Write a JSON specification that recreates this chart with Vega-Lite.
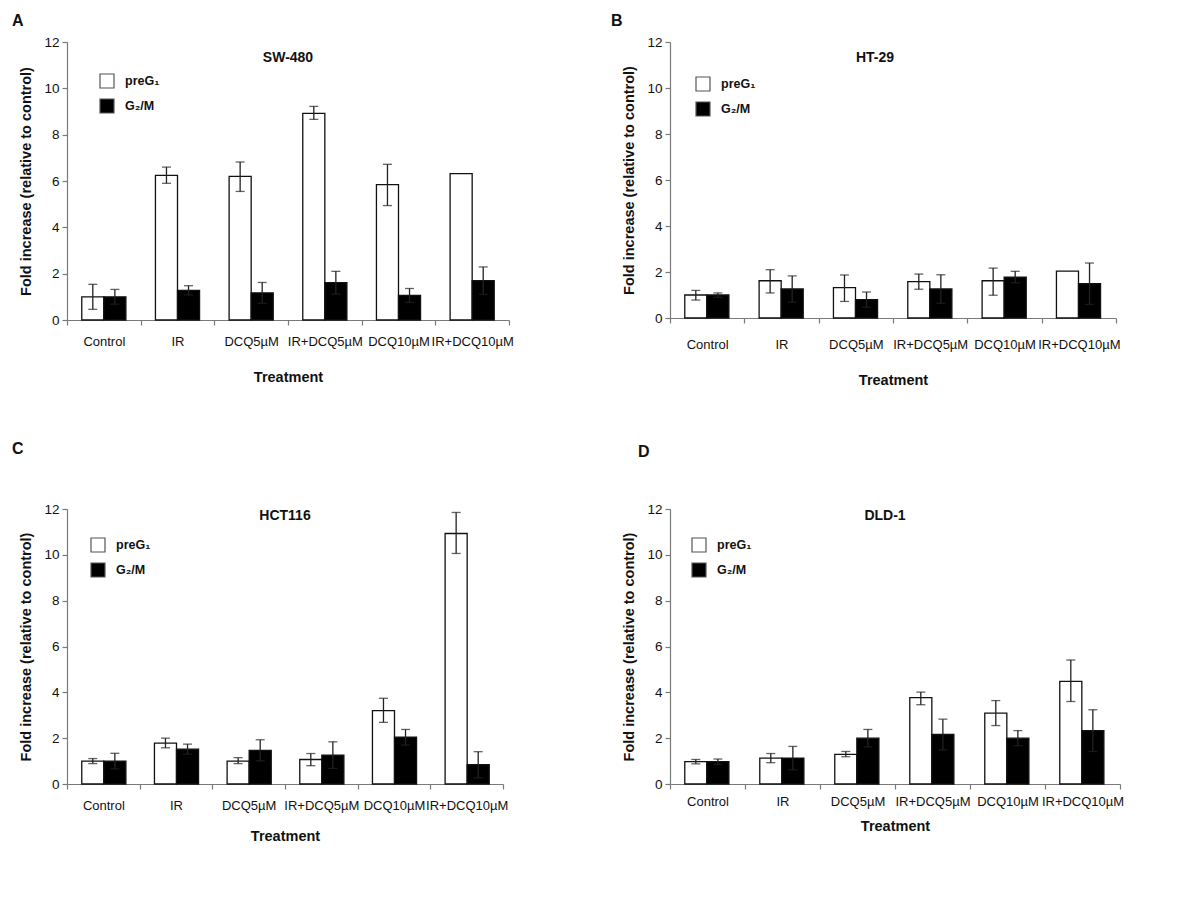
{
  "$schema": "https://vega.github.io/schema/vega-lite/v6.json",
  "background": "white",
  "padding": {"left": 11, "top": 13, "right": 5, "bottom": 5},
  "data": {"values": [
    {"cell": "SW-480", "treatment": "Control", "phase": "preG₁", "mean": 1.0, "lower": 0.46, "upper": 1.54},
    {"cell": "SW-480", "treatment": "Control", "phase": "G₂/M", "mean": 1.0, "lower": 0.68, "upper": 1.32},
    {"cell": "SW-480", "treatment": "IR", "phase": "preG₁", "mean": 6.24, "lower": 5.9, "upper": 6.6},
    {"cell": "SW-480", "treatment": "IR", "phase": "G₂/M", "mean": 1.28, "lower": 1.08, "upper": 1.48},
    {"cell": "SW-480", "treatment": "DCQ5µM", "phase": "preG₁", "mean": 6.2, "lower": 5.55, "upper": 6.82},
    {"cell": "SW-480", "treatment": "DCQ5µM", "phase": "G₂/M", "mean": 1.17, "lower": 0.72, "upper": 1.62},
    {"cell": "SW-480", "treatment": "IR+DCQ5µM", "phase": "preG₁", "mean": 8.92, "lower": 8.66, "upper": 9.22},
    {"cell": "SW-480", "treatment": "IR+DCQ5µM", "phase": "G₂/M", "mean": 1.61, "lower": 1.12, "upper": 2.1},
    {"cell": "SW-480", "treatment": "DCQ10µM", "phase": "preG₁", "mean": 5.84, "lower": 4.94, "upper": 6.72},
    {"cell": "SW-480", "treatment": "DCQ10µM", "phase": "G₂/M", "mean": 1.06, "lower": 0.76, "upper": 1.36},
    {"cell": "SW-480", "treatment": "IR+DCQ10µM", "phase": "preG₁", "mean": 6.32, "lower": null, "upper": null},
    {"cell": "SW-480", "treatment": "IR+DCQ10µM", "phase": "G₂/M", "mean": 1.7, "lower": 1.11, "upper": 2.29},
    {"cell": "HT-29", "treatment": "Control", "phase": "preG₁", "mean": 1.0, "lower": 0.78, "upper": 1.2},
    {"cell": "HT-29", "treatment": "Control", "phase": "G₂/M", "mean": 1.0, "lower": 0.9, "upper": 1.09},
    {"cell": "HT-29", "treatment": "IR", "phase": "preG₁", "mean": 1.62, "lower": 1.09, "upper": 2.1},
    {"cell": "HT-29", "treatment": "IR", "phase": "G₂/M", "mean": 1.26, "lower": 0.69, "upper": 1.83},
    {"cell": "HT-29", "treatment": "DCQ5µM", "phase": "preG₁", "mean": 1.32, "lower": 0.72, "upper": 1.87},
    {"cell": "HT-29", "treatment": "DCQ5µM", "phase": "G₂/M", "mean": 0.8, "lower": 0.47, "upper": 1.13},
    {"cell": "HT-29", "treatment": "IR+DCQ5µM", "phase": "preG₁", "mean": 1.58, "lower": 1.25, "upper": 1.91},
    {"cell": "HT-29", "treatment": "IR+DCQ5µM", "phase": "G₂/M", "mean": 1.26, "lower": 0.64, "upper": 1.88},
    {"cell": "HT-29", "treatment": "DCQ10µM", "phase": "preG₁", "mean": 1.62, "lower": 0.99, "upper": 2.17},
    {"cell": "HT-29", "treatment": "DCQ10µM", "phase": "G₂/M", "mean": 1.78, "lower": 1.53, "upper": 2.03},
    {"cell": "HT-29", "treatment": "IR+DCQ10µM", "phase": "preG₁", "mean": 2.04, "lower": null, "upper": null},
    {"cell": "HT-29", "treatment": "IR+DCQ10µM", "phase": "G₂/M", "mean": 1.49, "lower": 0.59, "upper": 2.39},
    {"cell": "HCT116", "treatment": "Control", "phase": "preG₁", "mean": 1.0, "lower": 0.89, "upper": 1.11},
    {"cell": "HCT116", "treatment": "Control", "phase": "G₂/M", "mean": 1.0, "lower": 0.66, "upper": 1.34},
    {"cell": "HCT116", "treatment": "IR", "phase": "preG₁", "mean": 1.78, "lower": 1.58, "upper": 2.0},
    {"cell": "HCT116", "treatment": "IR", "phase": "G₂/M", "mean": 1.52, "lower": 1.3, "upper": 1.74},
    {"cell": "HCT116", "treatment": "DCQ5µM", "phase": "preG₁", "mean": 1.0, "lower": 0.89, "upper": 1.15},
    {"cell": "HCT116", "treatment": "DCQ5µM", "phase": "G₂/M", "mean": 1.47, "lower": 1.01, "upper": 1.93},
    {"cell": "HCT116", "treatment": "IR+DCQ5µM", "phase": "preG₁", "mean": 1.07, "lower": 0.8, "upper": 1.33},
    {"cell": "HCT116", "treatment": "IR+DCQ5µM", "phase": "G₂/M", "mean": 1.26, "lower": 0.68, "upper": 1.84},
    {"cell": "HCT116", "treatment": "DCQ10µM", "phase": "preG₁", "mean": 3.2, "lower": 2.69, "upper": 3.74},
    {"cell": "HCT116", "treatment": "DCQ10µM", "phase": "G₂/M", "mean": 2.04, "lower": 1.7, "upper": 2.38},
    {"cell": "HCT116", "treatment": "IR+DCQ10µM", "phase": "preG₁", "mean": 10.93, "lower": 10.06, "upper": 11.85},
    {"cell": "HCT116", "treatment": "IR+DCQ10µM", "phase": "G₂/M", "mean": 0.84, "lower": 0.27, "upper": 1.41},
    {"cell": "DLD-1", "treatment": "Control", "phase": "preG₁", "mean": 0.98, "lower": 0.88, "upper": 1.07},
    {"cell": "DLD-1", "treatment": "Control", "phase": "G₂/M", "mean": 0.97, "lower": 0.85, "upper": 1.09},
    {"cell": "DLD-1", "treatment": "IR", "phase": "preG₁", "mean": 1.13, "lower": 0.93, "upper": 1.33},
    {"cell": "DLD-1", "treatment": "IR", "phase": "G₂/M", "mean": 1.13, "lower": 0.62, "upper": 1.64},
    {"cell": "DLD-1", "treatment": "DCQ5µM", "phase": "preG₁", "mean": 1.29, "lower": 1.19, "upper": 1.42},
    {"cell": "DLD-1", "treatment": "DCQ5µM", "phase": "G₂/M", "mean": 2.0, "lower": 1.62, "upper": 2.38},
    {"cell": "DLD-1", "treatment": "IR+DCQ5µM", "phase": "preG₁", "mean": 3.77, "lower": 3.46, "upper": 4.01},
    {"cell": "DLD-1", "treatment": "IR+DCQ5µM", "phase": "G₂/M", "mean": 2.16, "lower": 1.49, "upper": 2.83},
    {"cell": "DLD-1", "treatment": "DCQ10µM", "phase": "preG₁", "mean": 3.09, "lower": 2.55, "upper": 3.64},
    {"cell": "DLD-1", "treatment": "DCQ10µM", "phase": "G₂/M", "mean": 2.0, "lower": 1.67, "upper": 2.33},
    {"cell": "DLD-1", "treatment": "IR+DCQ10µM", "phase": "preG₁", "mean": 4.48, "lower": 3.6, "upper": 5.41},
    {"cell": "DLD-1", "treatment": "IR+DCQ10µM", "phase": "G₂/M", "mean": 2.33, "lower": 1.42, "upper": 3.24}
  ]},
  "columns": 2,
  "spacing": {"row": 54, "column": 96},
  "resolve": {"scale": {"fill": "independent"}, "legend": {"fill": "independent"}},
  "concat": [
    {
      "title": {"text": "A", "anchor": "start", "frame": "bounds", "offset": 6, "dx": -7},
      "resolve": {"scale": {"fill": "independent"}, "legend": {"fill": "independent"}},
      "vconcat": [{
        "width": 442, "height": 278,
        "title": {"text": "SW-480", "offset": -30, "fontSize": 14},
        "transform": [{"filter": "datum.cell === 'SW-480'"}],
        "encoding": {
          "x": {"field": "treatment", "type": "nominal", "sort": ["Control", "IR", "DCQ5µM", "IR+DCQ5µM", "DCQ10µM", "IR+DCQ10µM"], "scale": {"paddingInner": 0, "paddingOuter": 0}, "title": "Treatment", "axis": {"tickBand": "extent", "labelPadding": 10, "titlePadding": 22}},
          "xOffset": {"field": "phase", "type": "nominal", "sort": ["preG₁", "G₂/M"], "scale": {"paddingInner": 0, "paddingOuter": 0.67}}
        },
        "layer": [
          {"mark": {"type": "bar", "stroke": "#111", "strokeWidth": 1.3},
           "encoding": {
             "y": {"field": "mean", "type": "quantitative", "scale": {"domain": [0, 12], "nice": false}, "title": "Fold increase (relative to control)", "axis": {"values": [0, 2, 4, 6, 8, 10, 12]}},
             "fill": {"field": "phase", "type": "nominal", "sort": ["preG₁", "G₂/M"], "scale": {"domain": ["preG₁", "G₂/M"], "range": ["white", "black"]}, "legend": {"orient": "none", "legendX": 32, "legendY": 31}}
           }},
          {"transform": [{"filter": "isValid(datum.upper)"}],
           "mark": {"type": "rule", "color": "#222", "strokeWidth": 1.3},
           "encoding": {"y": {"field": "lower", "type": "quantitative", "title": "Fold increase (relative to control)"}, "y2": {"field": "upper"}}},
          {"transform": [{"filter": "isValid(datum.upper)"}],
           "mark": {"type": "tick", "color": "#222", "size": 9, "thickness": 1.3},
           "encoding": {"y": {"field": "upper", "type": "quantitative", "title": "Fold increase (relative to control)"}}},
          {"transform": [{"filter": "isValid(datum.lower)"}],
           "mark": {"type": "tick", "color": "#222", "size": 9, "thickness": 1.3},
           "encoding": {"y": {"field": "lower", "type": "quantitative", "title": "Fold increase (relative to control)"}}}
        ]
      }]
    },
    {
      "title": {"text": "B", "anchor": "start", "frame": "bounds", "offset": 6, "dx": -11},
      "resolve": {"scale": {"fill": "independent"}, "legend": {"fill": "independent"}},
      "vconcat": [{
        "width": 446, "height": 276,
        "title": {"text": "HT-29", "offset": -30, "fontSize": 14, "dx": -18},
        "transform": [{"filter": "datum.cell === 'HT-29'"}],
        "encoding": {
          "x": {"field": "treatment", "type": "nominal", "sort": ["Control", "IR", "DCQ5µM", "IR+DCQ5µM", "DCQ10µM", "IR+DCQ10µM"], "scale": {"paddingInner": 0, "paddingOuter": 0}, "title": "Treatment", "axis": {"tickBand": "extent", "labelPadding": 15, "titlePadding": 22}},
          "xOffset": {"field": "phase", "type": "nominal", "sort": ["preG₁", "G₂/M"], "scale": {"paddingInner": 0, "paddingOuter": 0.67}}
        },
        "layer": [
          {"mark": {"type": "bar", "stroke": "#111", "strokeWidth": 1.3},
           "encoding": {
             "y": {"field": "mean", "type": "quantitative", "scale": {"domain": [0, 12], "nice": false}, "title": "Fold increase (relative to control)", "axis": {"values": [0, 2, 4, 6, 8, 10, 12]}},
             "fill": {"field": "phase", "type": "nominal", "sort": ["preG₁", "G₂/M"], "scale": {"domain": ["preG₁", "G₂/M"], "range": ["white", "black"]}, "legend": {"orient": "none", "legendX": 25, "legendY": 34}}
           }},
          {"transform": [{"filter": "isValid(datum.upper)"}],
           "mark": {"type": "rule", "color": "#222", "strokeWidth": 1.3},
           "encoding": {"y": {"field": "lower", "type": "quantitative", "title": "Fold increase (relative to control)"}, "y2": {"field": "upper"}}},
          {"transform": [{"filter": "isValid(datum.upper)"}],
           "mark": {"type": "tick", "color": "#222", "size": 9, "thickness": 1.3},
           "encoding": {"y": {"field": "upper", "type": "quantitative", "title": "Fold increase (relative to control)"}}},
          {"transform": [{"filter": "isValid(datum.lower)"}],
           "mark": {"type": "tick", "color": "#222", "size": 9, "thickness": 1.3},
           "encoding": {"y": {"field": "lower", "type": "quantitative", "title": "Fold increase (relative to control)"}}}
        ]
      }]
    },
    {
      "title": {"text": "C", "anchor": "start", "frame": "bounds", "offset": 45, "dx": -7},
      "resolve": {"scale": {"fill": "independent"}, "legend": {"fill": "independent"}},
      "vconcat": [{
        "width": 436, "height": 275,
        "title": {"text": "HCT116", "offset": -21, "fontSize": 14},
        "transform": [{"filter": "datum.cell === 'HCT116'"}],
        "encoding": {
          "x": {"field": "treatment", "type": "nominal", "sort": ["Control", "IR", "DCQ5µM", "IR+DCQ5µM", "DCQ10µM", "IR+DCQ10µM"], "scale": {"paddingInner": 0, "paddingOuter": 0}, "title": "Treatment", "axis": {"tickBand": "extent", "labelPadding": 10, "titlePadding": 17}},
          "xOffset": {"field": "phase", "type": "nominal", "sort": ["preG₁", "G₂/M"], "scale": {"paddingInner": 0, "paddingOuter": 0.67}}
        },
        "layer": [
          {"mark": {"type": "bar", "stroke": "#111", "strokeWidth": 1.3},
           "encoding": {
             "y": {"field": "mean", "type": "quantitative", "scale": {"domain": [0, 12], "nice": false}, "title": "Fold increase (relative to control)", "axis": {"values": [0, 2, 4, 6, 8, 10, 12]}},
             "fill": {"field": "phase", "type": "nominal", "sort": ["preG₁", "G₂/M"], "scale": {"domain": ["preG₁", "G₂/M"], "range": ["white", "black"]}, "legend": {"orient": "none", "legendX": 23, "legendY": 28}}
           }},
          {"transform": [{"filter": "isValid(datum.upper)"}],
           "mark": {"type": "rule", "color": "#222", "strokeWidth": 1.3},
           "encoding": {"y": {"field": "lower", "type": "quantitative", "title": "Fold increase (relative to control)"}, "y2": {"field": "upper"}}},
          {"transform": [{"filter": "isValid(datum.upper)"}],
           "mark": {"type": "tick", "color": "#222", "size": 9, "thickness": 1.3},
           "encoding": {"y": {"field": "upper", "type": "quantitative", "title": "Fold increase (relative to control)"}}},
          {"transform": [{"filter": "isValid(datum.lower)"}],
           "mark": {"type": "tick", "color": "#222", "size": 9, "thickness": 1.3},
           "encoding": {"y": {"field": "lower", "type": "quantitative", "title": "Fold increase (relative to control)"}}}
        ]
      }]
    },
    {
      "title": {"text": "D", "anchor": "start", "frame": "bounds", "offset": 42, "dx": 16},
      "resolve": {"scale": {"fill": "independent"}, "legend": {"fill": "independent"}},
      "vconcat": [{
        "width": 450, "height": 275,
        "title": {"text": "DLD-1", "offset": -21, "fontSize": 14, "dx": -10},
        "transform": [{"filter": "datum.cell === 'DLD-1'"}],
        "encoding": {
          "x": {"field": "treatment", "type": "nominal", "sort": ["Control", "IR", "DCQ5µM", "IR+DCQ5µM", "DCQ10µM", "IR+DCQ10µM"], "scale": {"paddingInner": 0, "paddingOuter": 0}, "title": "Treatment", "axis": {"tickBand": "extent", "labelPadding": 6, "titlePadding": 11}},
          "xOffset": {"field": "phase", "type": "nominal", "sort": ["preG₁", "G₂/M"], "scale": {"paddingInner": 0, "paddingOuter": 0.67}}
        },
        "layer": [
          {"mark": {"type": "bar", "stroke": "#111", "strokeWidth": 1.3},
           "encoding": {
             "y": {"field": "mean", "type": "quantitative", "scale": {"domain": [0, 12], "nice": false}, "title": "Fold increase (relative to control)", "axis": {"values": [0, 2, 4, 6, 8, 10, 12]}},
             "fill": {"field": "phase", "type": "nominal", "sort": ["preG₁", "G₂/M"], "scale": {"domain": ["preG₁", "G₂/M"], "range": ["white", "black"]}, "legend": {"orient": "none", "legendX": 21, "legendY": 28}}
           }},
          {"transform": [{"filter": "isValid(datum.upper)"}],
           "mark": {"type": "rule", "color": "#222", "strokeWidth": 1.3},
           "encoding": {"y": {"field": "lower", "type": "quantitative", "title": "Fold increase (relative to control)"}, "y2": {"field": "upper"}}},
          {"transform": [{"filter": "isValid(datum.upper)"}],
           "mark": {"type": "tick", "color": "#222", "size": 9, "thickness": 1.3},
           "encoding": {"y": {"field": "upper", "type": "quantitative", "title": "Fold increase (relative to control)"}}},
          {"transform": [{"filter": "isValid(datum.lower)"}],
           "mark": {"type": "tick", "color": "#222", "size": 9, "thickness": 1.3},
           "encoding": {"y": {"field": "lower", "type": "quantitative", "title": "Fold increase (relative to control)"}}}
        ]
      }]
    }
  ],
  "config": {
    "font": "Liberation Sans",
    "view": {"stroke": null},
    "axis": {"labelFont": "Liberation Sans", "titleFont": "Liberation Sans", "labelColor": "#111", "titleColor": "#111", "domainColor": "#7a7a7a", "tickColor": "#7a7a7a", "grid": false, "tickSize": 5, "domainWidth": 1.2, "tickWidth": 1.2},
    "axisX": {"labelAngle": 0, "labelFontSize": 13, "titleFontSize": 14.5, "titleFontWeight": "bold"},
    "axisY": {"labelFontSize": 13.5, "titleFontSize": 14.5, "titleFontWeight": "bold", "labelPadding": 3, "titlePadding": 10},
    "legend": {"title": null, "labelFont": "Liberation Sans", "labelFontSize": 12.5, "labelFontWeight": "bold", "labelColor": "#111", "symbolType": "square", "symbolSize": 196, "symbolStrokeColor": "#555", "symbolStrokeWidth": 1.2, "rowPadding": 5, "labelOffset": 10, "padding": 0},
    "title": {"font": "Liberation Sans", "fontWeight": "bold", "color": "#111", "fontSize": 16}
  }
}
